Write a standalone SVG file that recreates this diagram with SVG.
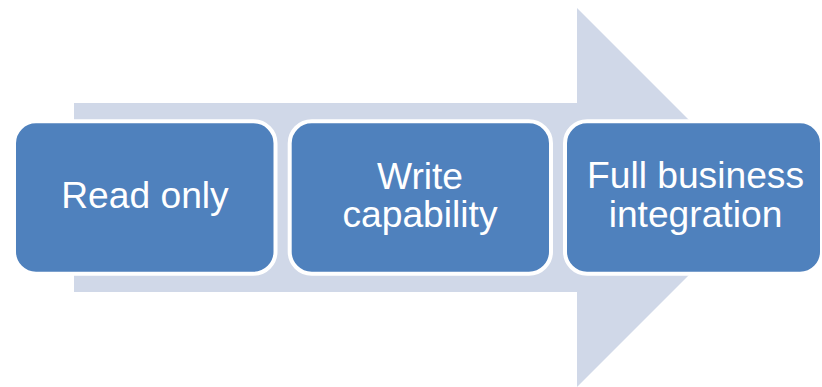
<svg xmlns="http://www.w3.org/2000/svg" width="822" height="387" viewBox="0 0 822 387">
<style>
.box{fill:#4F81BD;stroke:#FFFFFF;stroke-width:4}
.lbl{font-family:"Liberation Sans",Arial,sans-serif;font-size:37.2px;fill:#FFFFFF;text-anchor:middle}
</style>
<rect width="822" height="387" fill="#FFFFFF"/>
<g id="connectors">
<polygon points="74,103 577,103 577,8 766.5,197.5 577,387 577,292 74,292" fill="#D0D8E8"/>
</g>
<g id="node-read">
<rect class="box" x="14" y="121.3" width="261.5" height="152.4" rx="22" ry="22"/>
<text class="lbl" x="145" y="208">Read only</text>
</g>
<g id="node-write">
<rect class="box" x="289.7" y="121.3" width="261.3" height="152.4" rx="22" ry="22"/>
<text class="lbl" x="420" y="189">Write</text>
<text class="lbl" x="420" y="227">capability</text>
</g>
<g id="node-full">
<rect class="box" x="565" y="121.3" width="257" height="152.4" rx="22" ry="22"/>
<text class="lbl" x="695.5" y="188">Full business</text>
<text class="lbl" x="695.5" y="226.5">integration</text>
</g>
</svg>
